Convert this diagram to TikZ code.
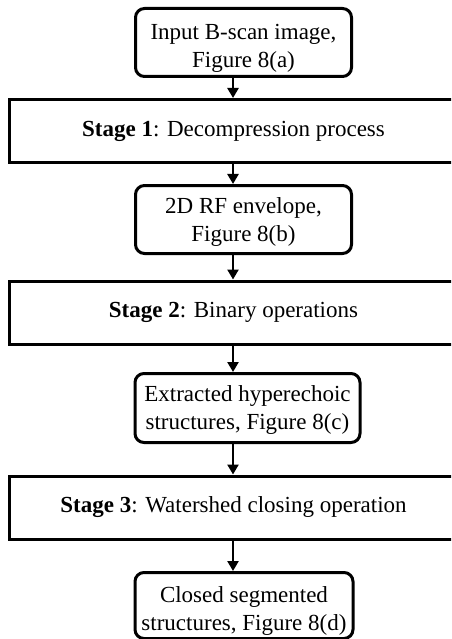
\documentclass[tikz,border=0pt]{standalone}
\usepackage{fontspec}
\setmainfont{Liberation Serif}
\usetikzlibrary{arrows.meta}
\tikzset{
  rbox/.style={draw, line width=3pt, rounded corners=9pt, inner sep=0pt, fill=white},
  sbox/.style={draw, line width=3pt, inner sep=0pt, minimum width=449pt, minimum height=63pt, fill=white,
    font=\fontsize{23}{28}\selectfont},
  txt/.style={align=center, inner sep=0pt, font=\fontsize{23}{28}\selectfont},
  flow/.style={line width=2.6pt, -{Triangle[length=10pt,width=11pt]}},
}
\begin{document}
\begin{tikzpicture}[x=1pt,y=-1pt]
\useasboundingbox (0,0) rectangle (451,639);
\fill[white] (0,0) rectangle (451,639);
\clip (0,0) rectangle (451,639);
\coordinate (ax) at (233,0);
% rounded boxes
\node[rbox, minimum width=216pt, minimum height=68pt] (b1) at (243.5,42.5) {};
\node[txt] (b1t) at ([yshift=-6pt]b1.center) {Input B-scan image,\\Figure 8(a)};
\node[sbox] (s1) at (233.5,131) {\textbf{Stage 1}: Decompression process};
\node[rbox, minimum width=216pt, minimum height=68pt] (b2) at (243.5,219.5) {};
\node[txt] (b2t) at ([yshift=-2.5pt]b2.center) {2D RF envelope,\\Figure 8(b)};
\node[sbox] (s2) at (233.5,312.5) {\textbf{Stage 2}: Binary operations};
\node[rbox, minimum width=225pt, minimum height=69pt] (b3) at (247.5,408) {};
\node[txt] (b3t) at ([yshift=-2pt]b3.center) {Extracted hyperechoic\\structures, Figure 8(c)};
\node[sbox] (s3) at (233.5,507.5) {\textbf{Stage 3}: Watershed closing operation};
\node[rbox, minimum width=218pt, minimum height=66pt] (b4) at (244,605.5) {};
\node[txt] (b4t) at ([yshift=-5pt]b4.center) {Closed segmented\\structures, Figure 8(d)};
% arrows
\draw[flow] (b1.south -| ax) -- (s1.north -| ax);
\draw[flow] (s1.south -| ax) -- (b2.north -| ax);
\draw[flow] (b2.south -| ax) -- (s2.north -| ax);
\draw[flow] (s2.south -| ax) -- (b3.north -| ax);
\draw[flow] (b3.south -| ax) -- (s3.north -| ax);
\draw[flow] (s3.south -| ax) -- (b4.north -| ax);
\end{tikzpicture}
\end{document}
